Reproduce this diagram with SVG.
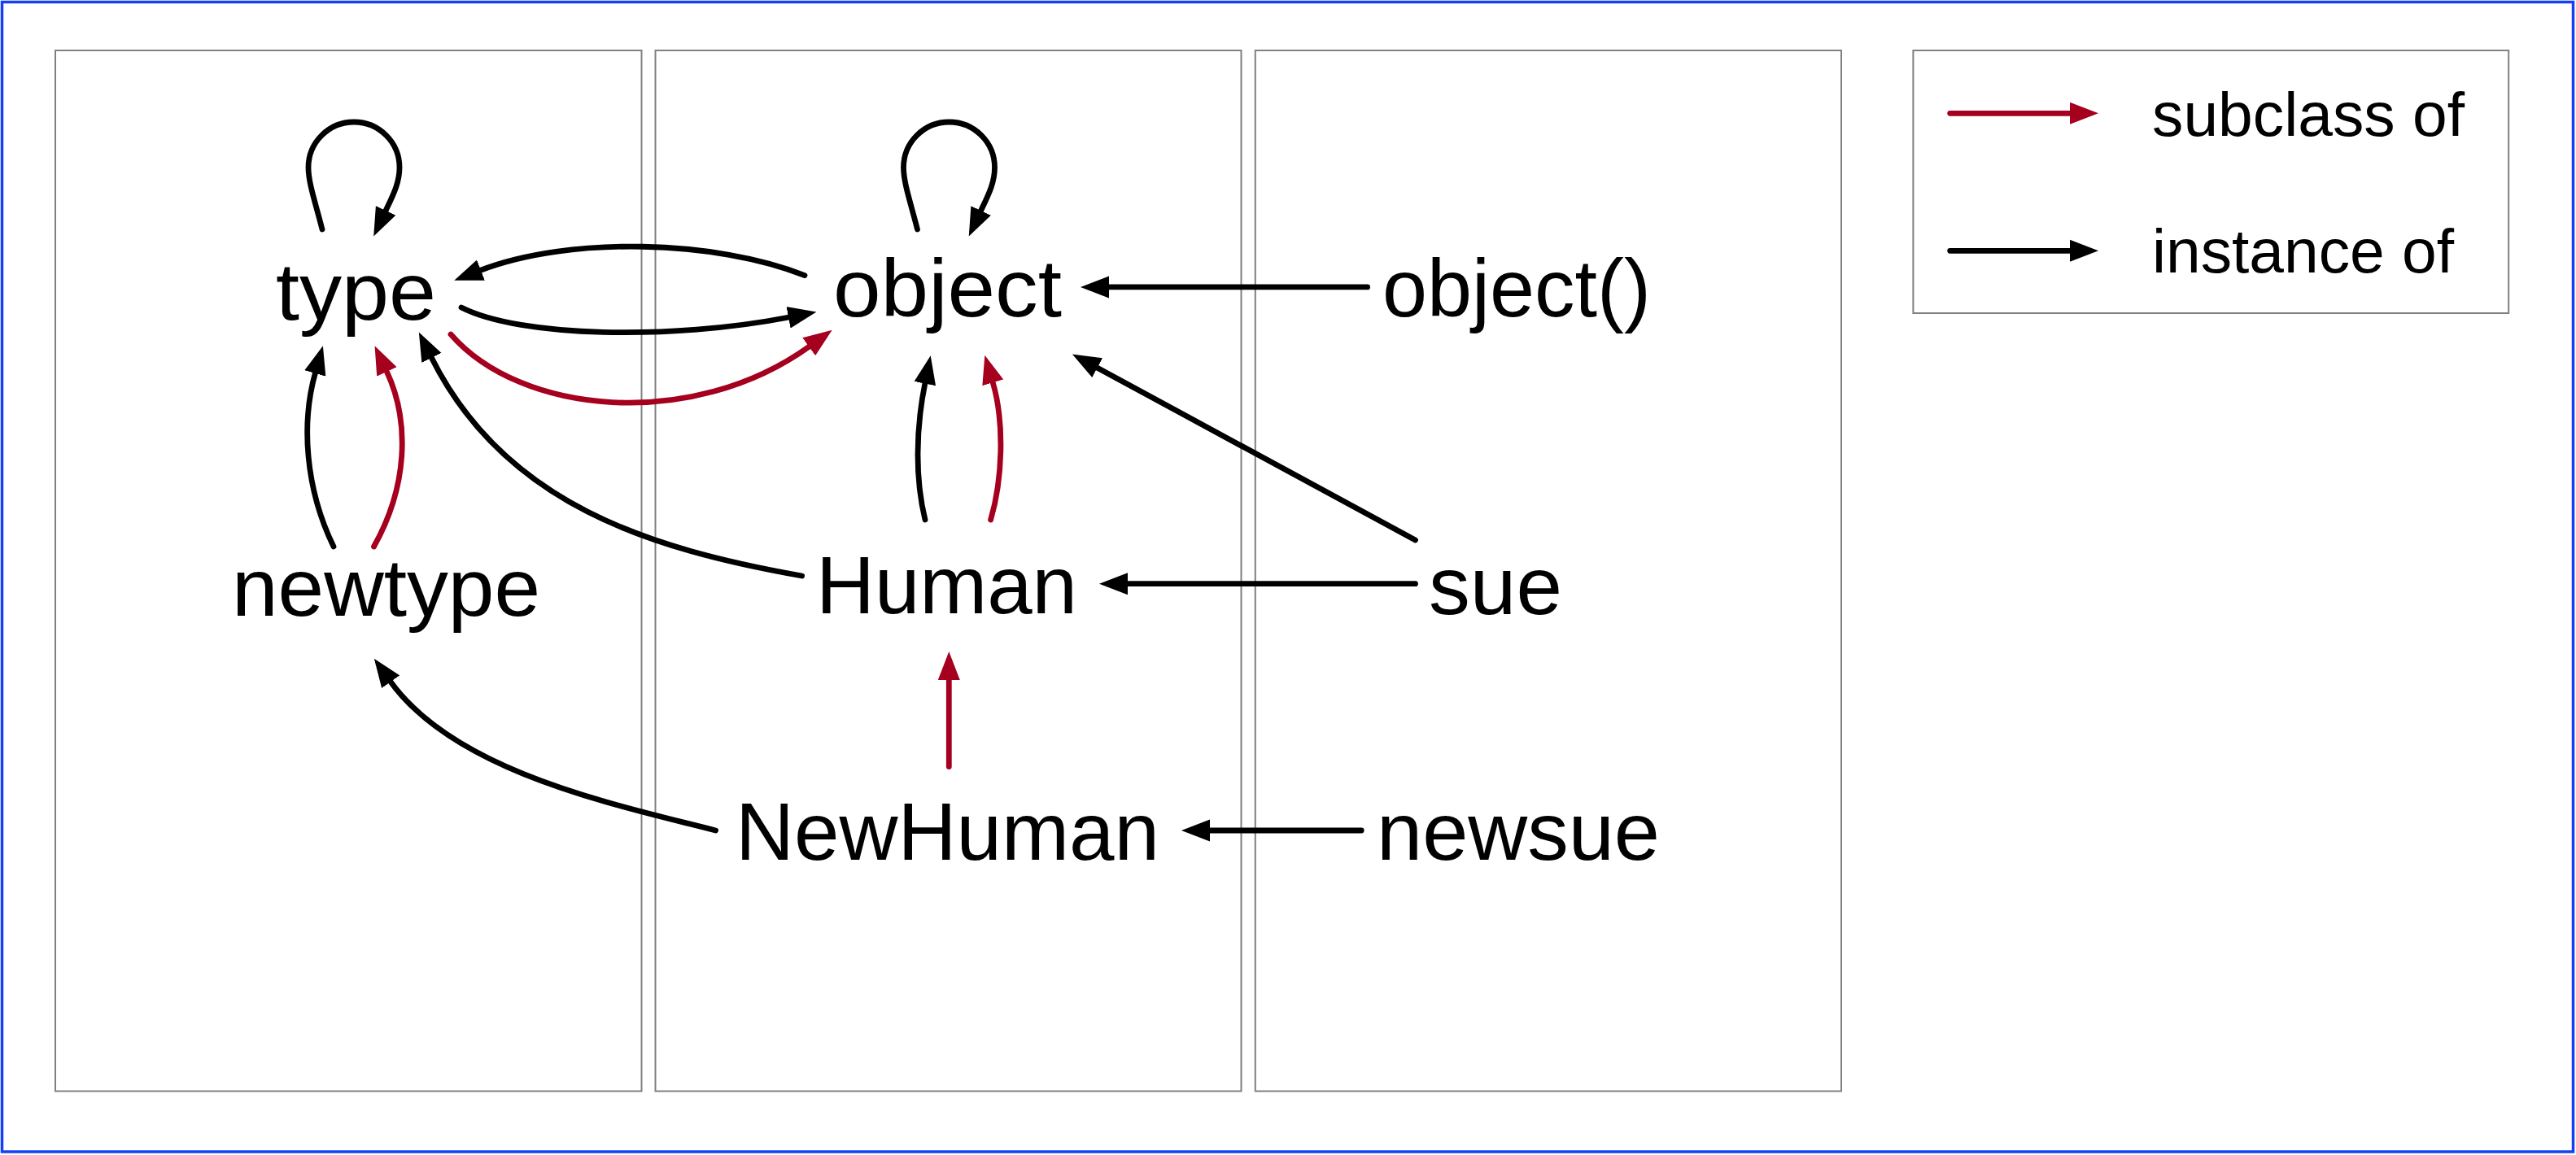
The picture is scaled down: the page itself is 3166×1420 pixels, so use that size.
<svg xmlns="http://www.w3.org/2000/svg" width="3166" height="1420" viewBox="0 0 3166 1420">
<style>
.frame{fill:none;stroke:#1440f5;stroke-width:3.5}
.panel{fill:none;stroke:#808080;stroke-width:2}
.lbl{font-family:"Liberation Sans",Arial,Helvetica,sans-serif;font-size:101px;fill:#000}
.leg{font-family:"Liberation Sans",Arial,Helvetica,sans-serif;font-size:76px;fill:#000}
.inst{fill:none;stroke:#000;stroke-width:6.8;stroke-linecap:round;marker-end:url(#ab)}
.sub{fill:none;stroke:#a6001f;stroke-width:6.8;stroke-linecap:round;marker-end:url(#ar)}
</style>
<defs>
<marker id="ab" markerUnits="userSpaceOnUse" markerWidth="36" markerHeight="28" refX="1" refY="13.5" orient="auto" viewBox="0 0 36 27"><path d="M0,0 L35,13.5 L0,27 z" fill="#000"/></marker>
<marker id="ar" markerUnits="userSpaceOnUse" markerWidth="36" markerHeight="28" refX="1" refY="13.5" orient="auto" viewBox="0 0 36 27"><path d="M0,0 L35,13.5 L0,27 z" fill="#a6001f"/></marker>
</defs>
<rect width="3166" height="1420" fill="#fff"/>
<rect class="frame" x="2.5" y="2.5" width="3160" height="1413.5"/>
<g id="panels">
<rect class="panel" x="68" y="62" width="720.5" height="1279.5"/>
<rect class="panel" x="805.5" y="62" width="720" height="1279.5"/>
<rect class="panel" x="1542.8" y="62" width="720.2" height="1279.5"/>
</g>
<g id="legend">
<rect class="panel" x="2351.4" y="62" width="731.8" height="323"/>
<path class="sub" d="M2396.7,139.3 L2545,139.3"/>
<path class="inst" d="M2396.7,308.3 L2545,308.3"/>
<text class="leg" x="2645" y="166.7" textLength="384" lengthAdjust="spacingAndGlyphs">subclass of</text>
<text class="leg" x="2645" y="335" textLength="371" lengthAdjust="spacingAndGlyphs">instance of</text>
</g>
<g id="connectors">
<path class="inst" d="M396,282 C388,250 379,225 379,206 A56,56 0 0 1 491,206 C491,225 483,240 473.7,259.8"/>
<path class="inst" d="M1127.5,282 C1119.5,250 1110.5,225 1110.5,206 A56,56 0 0 1 1222.5,206 C1222.5,225 1214.5,240 1205.2,259.8"/>
<path class="inst" d="M989,338.6 C880,295 700,290 590,332.5"/>
<path class="inst" d="M567,378 C640,415 825,418 970,390"/>
<path class="sub" d="M554,411 C640,510 850,530 995,425.7"/>
<path class="inst" d="M410,672 C375,600 370,520 387.6,458"/>
<path class="sub" d="M459.5,672 C500,600 505,520 475,456"/>
<path class="inst" d="M985.6,708 C800,675 620,620 530,439"/>
<path class="inst" d="M1137,639 C1125,590 1125,530 1137,470.6"/>
<path class="sub" d="M1217.6,639 C1232,590 1235,520 1220,469.4"/>
<path class="inst" d="M1680.6,352.9 L1362,352.9"/>
<path class="inst" d="M1739.5,664 L1347.8,451.7"/>
<path class="inst" d="M1739.5,717.7 L1385,717.7"/>
<path class="sub" d="M1166.3,942.5 L1166.3,835"/>
<path class="inst" d="M1673.2,1021 L1486,1021"/>
<path class="inst" d="M879.6,1021 C760,990 560,950 479.6,837.4"/>
</g>
<g id="node-type"><text class="lbl" x="339" y="393" textLength="197" lengthAdjust="spacingAndGlyphs">type</text></g>
<g id="node-object"><text class="lbl" x="1024" y="389" textLength="281" lengthAdjust="spacingAndGlyphs">object</text></g>
<g id="node-object-call"><text class="lbl" x="1699" y="389" textLength="330" lengthAdjust="spacingAndGlyphs">object()</text></g>
<g id="node-newtype"><text class="lbl" x="285" y="757" textLength="379" lengthAdjust="spacingAndGlyphs">newtype</text></g>
<g id="node-Human"><text class="lbl" x="1003" y="754" textLength="321" lengthAdjust="spacingAndGlyphs">Human</text></g>
<g id="node-sue"><text class="lbl" x="1756" y="755" textLength="164" lengthAdjust="spacingAndGlyphs">sue</text></g>
<g id="node-NewHuman"><text class="lbl" x="904" y="1056.5" textLength="521" lengthAdjust="spacingAndGlyphs">NewHuman</text></g>
<g id="node-newsue"><text class="lbl" x="1692" y="1056.5" textLength="348" lengthAdjust="spacingAndGlyphs">newsue</text></g>
</svg>
